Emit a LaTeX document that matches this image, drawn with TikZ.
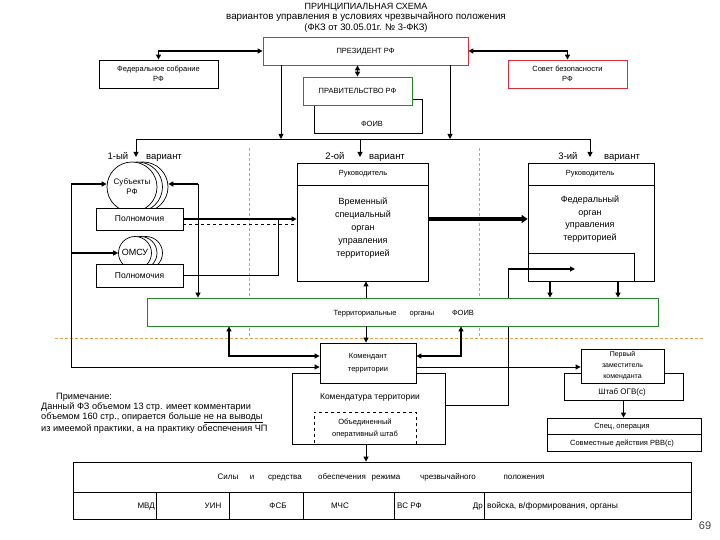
\documentclass[tikz,border=0pt]{standalone}
\usepackage{fontspec}
\setmainfont{Liberation Sans}
\usetikzlibrary{arrows.meta}
\definecolor{redb}{RGB}{215,45,60}
\definecolor{greenb}{RGB}{40,135,40}
\definecolor{orng}{RGB}{228,160,80}
\newcommand\sz[2]{\fontsize{#1}{#2}\selectfont}
\begin{document}
\begin{tikzpicture}[x=1pt,y=-1pt,
  box/.style={draw, fill=white, line width=0.8pt, inner sep=0pt, align=center},
  lbl/.style={inner sep=0pt, align=center},
  one/.style={text height=0.72em, text depth=0.22em},
  tip/.style={-{Triangle[length=5pt,width=5pt]}},
  tipb/.style={{Triangle[length=5pt,width=5pt]}-{Triangle[length=5pt,width=5pt]}},
  tipL/.style={-{Triangle[length=6pt,width=8pt]}},
  thinl/.style={line width=0.9pt},
  thk/.style={line width=1.8pt},
  orl/.style={draw=orng, line width=0.8pt, dash pattern=on 3pt off 2pt},
  circ/.style={circle, draw, fill=white, line width=0.7pt, inner sep=0pt, align=center}]
\useasboundingbox (0,0) rectangle (720,540);

% orange guide lines
\coordinate (g1) at (249,148); \coordinate (g2) at (479,148);
\coordinate (g3) at (55,338); \coordinate (g4) at (705,338);
\draw[orl] (g1) -- (g1 |- g3);
\draw[orl] (g2) -- (g2 |- g3);
\draw[orl] (g3) -- (g4);

% title
\node[lbl, one, font=\sz{9}{11}] (t1) at (366,7) {ПРИНЦИПИАЛЬНАЯ СХЕМА};
\node[lbl, one, font=\sz{9.8}{11}] (t2) at (366,17.5) {вариантов управления в условиях чрезвычайного положения};
\node[lbl, one, font=\sz{9.4}{11}] (t3) at (366,28) {(ФКЗ от 30.05.01г. № 3-ФКЗ)};

% top boxes
\node[box, minimum width=108pt, minimum height=34pt] (foiv) at (368,116) {};
\node[lbl, one, font=\sz{7.5}{9}] (foivt) at (372,124) {ФОИВ};
\node[box, one, draw=greenb, minimum width=109pt, minimum height=28pt, font=\sz{7.5}{9}] (prav) at (357.5,91) {ПРАВИТЕЛЬСТВО РФ};
\node[box, one, draw=redb, minimum width=205pt, minimum height=28pt, font=\sz{7.5}{9}] (pres) at (365.5,51) {ПРЕЗИДЕНТ РФ};
\node[box, minimum width=119pt, minimum height=28pt, font=\sz{7.5}{10}] (fed) at (158.5,74) {Федеральное собрание\\РФ};
\node[box, draw=redb, minimum width=119pt, minimum height=28pt, font=\sz{7.5}{10}] (sovet) at (567.5,74) {Совет безопасности\\РФ};

\draw[thk,tipb] (fed.north) |- (pres.west);
\draw[thk,tipb] (sovet.north) |- (pres.east);
\draw[thk,tipb] (pres.south -| prav.north) -- (prav.north);

% bus
\coordinate (bL) at (136,139); \coordinate (bR) at (590,139);
\coordinate (b1) at (281,139); \coordinate (b2) at (450,139);
\draw[thinl] (bL) -- (bR);
\draw[thinl,tip] (pres.south -| b1) -- (b1);
\draw[thinl,tip] (pres.south -| b2) -- (b2);
\coordinate (v1) at (136,157); \coordinate (v2) at (360,157); \coordinate (v3) at (590,157);
\draw[thinl,tip] (bL) -- (v1);
\draw[thinl,tip] (v2 |- bL) -- (v2);
\draw[thinl,tip] (bR) -- (v3);
\node[lbl, one, font=\sz{9.5}{11}] (l1a) at (118,157) {1-ый};
\node[lbl, one, font=\sz{9.5}{11}] (l1b) at (164,157) {вариант};
\node[lbl, one, font=\sz{9.5}{11}] (l2a) at (335,157) {2-ой};
\node[lbl, one, font=\sz{9.5}{11}] (l2b) at (387,157) {вариант};
\node[lbl, one, font=\sz{9.5}{11}] (l3a) at (568,157) {3-ий};
\node[lbl, one, font=\sz{9.5}{11}] (l3b) at (622,157) {вариант};

% variant 1
\node[circ, minimum size=50pt] (subj3) at (143,187) {};
\node[circ, minimum size=50pt] (subj2) at (137.5,187) {};
\node[circ, minimum size=50pt, font=\sz{8}{10}] (subj) at (132,187) {Субъекты\\РФ};
\node[box, one, minimum width=87pt, minimum height=22pt, font=\sz{8.5}{10}] (pol1) at (139.5,219) {Полномочия};
\node[circ, minimum size=33pt] (omsu3) at (146,253) {};
\node[circ, minimum size=33pt] (omsu2) at (140.5,253) {};
\node[circ, one, minimum size=33pt, font=\sz{9}{10}] (omsu) at (135,253) {ОМСУ};
\node[box, one, minimum width=87pt, minimum height=23pt, font=\sz{8.5}{10}] (pol2) at (139.5,275.5) {Полномочия};

% variant 2
\node[box, minimum width=131pt, minimum height=118pt] (vrem) at (362.5,222) {};
\coordinate (dv) at (0,185);
\draw[line width=0.8pt] (vrem.west |- dv) -- (vrem.east |- dv);
\node[lbl, one, font=\sz{7.5}{9}] (vremr) at (363,173) {Руководитель};
\node[lbl, font=\sz{9}{12.8}] (vremt) at (363,228) {Временный\\специальный\\орган\\управления\\территорией};

% variant 3
\node[box, minimum width=126pt, minimum height=118pt] (fedorg) at (591,222) {};
\draw[line width=0.8pt] (fedorg.west |- dv) -- (fedorg.east |- dv);
\node[lbl, one, font=\sz{7.5}{9}] (fedr) at (590,173) {Руководитель};
\node[lbl, font=\sz{9}{12.7}] (fedt) at (590,219) {Федеральный\\орган\\управления\\территорией};
\coordinate (fi) at (634,253);
\draw[line width=0.8pt] (fedorg.west |- fi) -- (fi) -- (fi |- fedorg.south);

% lower boxes
\node[box, minimum width=153pt, minimum height=71pt] (komt) at (368.5,408.5) {};
\node[lbl, one, font=\sz{8.5}{10}] (komtt) at (370,397) {Комендатура территории};
\node[box, dashed, minimum width=102pt, minimum height=32pt, font=\sz{7.5}{12}] (ob) at (365,428) {Объединенный\\оперативный штаб};
\node[box, minimum width=96pt, minimum height=40pt, font=\sz{7.5}{13}] (kom) at (368,363) {Комендант\\территории};
\node[box, minimum width=119pt, minimum height=27pt] (shtab) at (623.5,386.5) {};
\node[lbl, one, font=\sz{8}{10}] (shtabt) at (622,392) {Штаб ОГВ(с)};
\node[box, minimum width=83pt, minimum height=34pt, font=\sz{7}{11}] (perv) at (622.5,366) {Первый\\заместитель\\коменданта};
\node[box, minimum width=154pt, minimum height=33pt] (spec) at (624,434.5) {};
\coordinate (sd) at (0,434);
\draw[line width=0.8pt] (spec.west |- sd) -- (spec.east |- sd);
\node[lbl, one, font=\sz{7.5}{9}] (spec1) at (622,426) {Спец, операция};
\node[lbl, one, font=\sz{7.5}{9}] (spec2) at (622,443) {Совместные действия РВВ(с)};

% table
\node[box, minimum width=618pt, minimum height=57pt] (tbl) at (382,490.5) {};
\coordinate (td) at (0,492);
\draw[line width=0.8pt] (tbl.west |- td) -- (tbl.east |- td);
\foreach \x in {156,229,303,394,484} \draw[line width=0.8pt] (\x,492) -- (\x,519);
\foreach \x/\w in {228/Силы,252/и,285/средства,342/обеспечения,386/режима,448/чрезвычайного,524/положения}
  \node[lbl, one, font=\sz{8}{9}] at (\x,477) {\w};
\node[lbl, one, font=\sz{8}{9}, anchor=east] (mvd) at (155,506) {МВД};
\node[lbl, one, font=\sz{8}{9}] (uin) at (213,506) {УИН};
\node[lbl, one, font=\sz{8}{9}] (fsb) at (278,506) {ФСБ};
\node[lbl, one, font=\sz{8}{9}] (mchs) at (340,506) {МЧС};
\node[lbl, one, font=\sz{8}{9}, anchor=west] (vsrf) at (397,506) {ВС РФ};
\node[lbl, one, font=\sz{8}{9}, anchor=east] (dr) at (483,506) {Др};
\node[lbl, one, font=\sz{8.5}{9}, anchor=west] (voi) at (487,506) {войска, в/формирования, органы};

% line crossing territorial box (hidden inside it)
\coordinate (K1) at (508,405); \coordinate (K2) at (508,269); \coordinate (K3) at (575,269);
\draw[thinl] (komt.east |- K1) -- (K1) -- (K2);
\draw[thk,tip] (K2) -- (K3);

% territorial organs
\node[box, draw=greenb, minimum width=511pt, minimum height=28pt] (terr) at (402.5,312) {};
\node[lbl, one, font=\sz{7.5}{9}] (terr1) at (365,313) {Территориальные};
\node[lbl, one, font=\sz{7.5}{9}] (terr2) at (422,313) {органы};
\node[lbl, one, font=\sz{7.5}{9}] (terr3) at (463,313) {ФОИВ};

% connectors variant 1
\coordinate (L1) at (71,184); \coordinate (L2) at (71,253); \coordinate (L3) at (71,367);
\draw[thinl] (L1) -- (L3);
\draw[thk,tip] (L1) -- (L1 -| subj.west);
\draw[thk,tip] (L2) -- (L2 -| omsu.west);
\draw[thinl,tip] (L3) -- (L3 -| kom.west);
\coordinate (R1) at (198,184);
\draw[thk,tip] (R1) -- (R1 -| subj3.east);
\draw[thinl,tip] (R1) -- (R1 |- terr.north);
\coordinate (J) at (278,219);
\draw[thk,tip] (pol1.east) -- (pol1.east -| vrem.west);
\draw[thinl,dashed] ([yshift=-5pt]pol1.east) -- ([yshift=-5pt]pol1.east -| vrem.west);
\draw[thinl] (pol2.east) -| (J);

% variant 2 -> 3
\draw[line width=4pt,tipL] (vrem.east |- J) -- (fedorg.west |- J);

% fedorg -> terr
\coordinate (F1) at (550,281); \coordinate (F2) at (618,281);
\draw[thk,tip] (F1) -- (F1 |- terr.north);
\draw[thk,tip] (F2) -- (F2 |- terr.north);
\coordinate (U) at (366,297);
\draw[thinl,tip] (U |- terr.north) -- (U |- vrem.south);

% terr <-> kom
\coordinate (T1) at (229,356); \coordinate (T2) at (461,356);
\draw[thk,tipb] (T1 |- terr.south) -- (T1) -- (T1 -| kom.west);
\draw[thk,tipb] (T2 |- terr.south) -- (T2) -- (T2 -| kom.east);
\draw[thinl,tip] (U |- terr.south) -- (U |- kom.north);

\draw[thinl,tip] (kom.east |- L3) -- (perv.west |- L3);
\draw[thk,tip] (shtab.south) -- (shtab.south |- spec.north);
\draw[thinl,tip] (U |- komt.south) -- (U |- tbl.north);

% note
\node[lbl, align=left, anchor=west, font=\sz{9.2}{10}] (note) at (41,413)
  {\hspace*{15pt}Примечание:\\Данный ФЗ объемом 13 стр. имеет комментарии\\объемом 160 стр., опирается больше \underline{не на выводы}\\из имеемой практики, а на практику обеспечения ЧП};

\node[lbl, one, font=\sz{11}{12}, text=black!75] (pg) at (705,527) {69};
\end{tikzpicture}
\end{document}
